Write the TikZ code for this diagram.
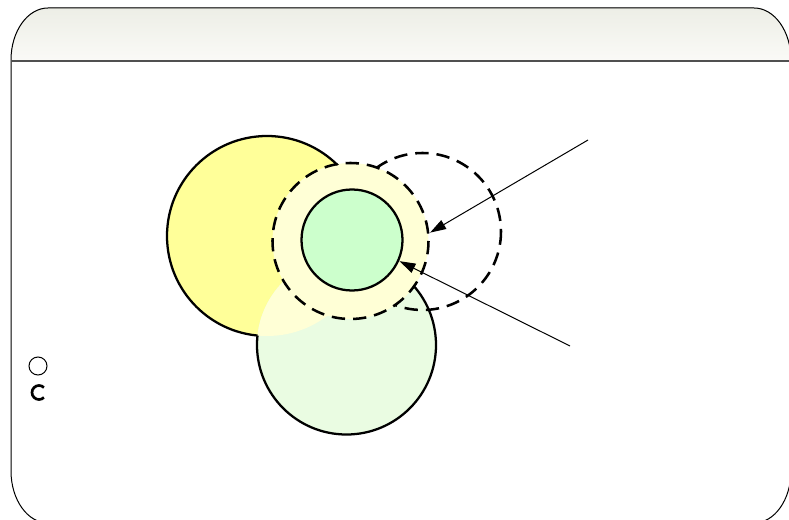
\documentclass[tikz,border=0pt]{standalone}
\usetikzlibrary{arrows.meta,calc,positioning}
\definecolor{Lemon}{HTML}{FFFF99}
\definecolor{PaleLemon}{HTML}{FFFFD6}
\definecolor{Mint}{HTML}{CCFFCC}
\definecolor{PaleMint}{HTML}{EAFCE2}
\definecolor{HeadTop}{HTML}{EDEEE6}
\definecolor{HeadBot}{HTML}{FAFAF7}
\definecolor{Rule}{HTML}{505050}

\tikzset{
  ring/.style={line width=1.7pt},
  dashring/.style={line width=1.9pt,dash pattern=on 10pt off 6pt},
  pointer/.style={line width=0.75pt,-{Triangle[length=12pt,width=7.5pt]}}
}

\begin{document}
\begin{tikzpicture}[x=0.75pt,y=-0.75pt]
        \useasboundingbox (0,0) rectangle (789,520);
        % slide frame
        \fill[top color=HeadTop,bottom color=HeadBot]
          (11,61) -- (11,60) arc[start angle=180,end angle=270,x radius=37,y radius=52]
          -- (754,8) arc[start angle=270,end angle=360,x radius=37,y radius=52] -- (791,61) -- cycle;
        \draw[line width=0.75pt]
          (11,61) -- (11,60) arc[start angle=180,end angle=270,x radius=37,y radius=52]
          -- (754,8) arc[start angle=270,end angle=360,x radius=37,y radius=52] -- (791,471)
          arc[start angle=0,end angle=90,x radius=37,y radius=52] -- (48,523)
          arc[start angle=90,end angle=180,x radius=37,y radius=52] -- cycle;
        \draw[Rule,line width=1.5pt] (11,61) -- (791,61);

        % circle centres
        \coordinate (big) at (267,236);
        \coordinate (low) at (346.5,345);
        \coordinate (core) at (352,240);
        \coordinate (inner) at (350.5,241);
        \coordinate (outer) at (422.5,231.5);

        % fills
        \fill[Lemon] (big) circle (100);
        \fill[PaleMint] (low) circle (89.5);
        \begin{scope}
          \clip (low) circle (89.5);
          \fill[PaleLemon] (big) circle (100);
        \end{scope}
        \draw[dashring] (outer) circle (78.5);
        \fill[PaleLemon] (inner) circle (78);
        \fill[Mint] (core) circle (50.5);

        % outlines kept outside the overlaps
        \begin{scope}[even odd rule]
          \clip (0,0) rectangle (789,520) (low) circle (89.5);
          \clip (0,0) rectangle (789,520) (inner) circle (77);
          \draw[ring] (big) circle (100);
        \end{scope}
        \begin{scope}[even odd rule]
          \clip (0,0) rectangle (789,520) (big) circle (100);
          \clip (0,0) rectangle (789,520) (inner) circle (77);
          \draw[ring] (low) circle (89.5);
        \end{scope}
        \draw[ring] (core) circle (50.5);
        \draw[dashring] (inner) circle (78);

        % pointers
        \coordinate (tailA) at (588,140);
        \coordinate (tailB) at (570,346);
        \coordinate (tipA) at ($(inner)+(-6:80)$);
        \coordinate (tipB) at ($(core)+(24:52)$);
        \draw[pointer] (tailA) -- (tipA);
        \draw[pointer] (tailB) -- (tipB);

        % bullets
        \draw[line width=0.75pt] (38,366) circle (9);
        \draw[line width=2pt] ($(39,392.5)+(45:7)$)
          arc[start angle=45,end angle=315,radius=7];
      \end{tikzpicture}
\end{document}
